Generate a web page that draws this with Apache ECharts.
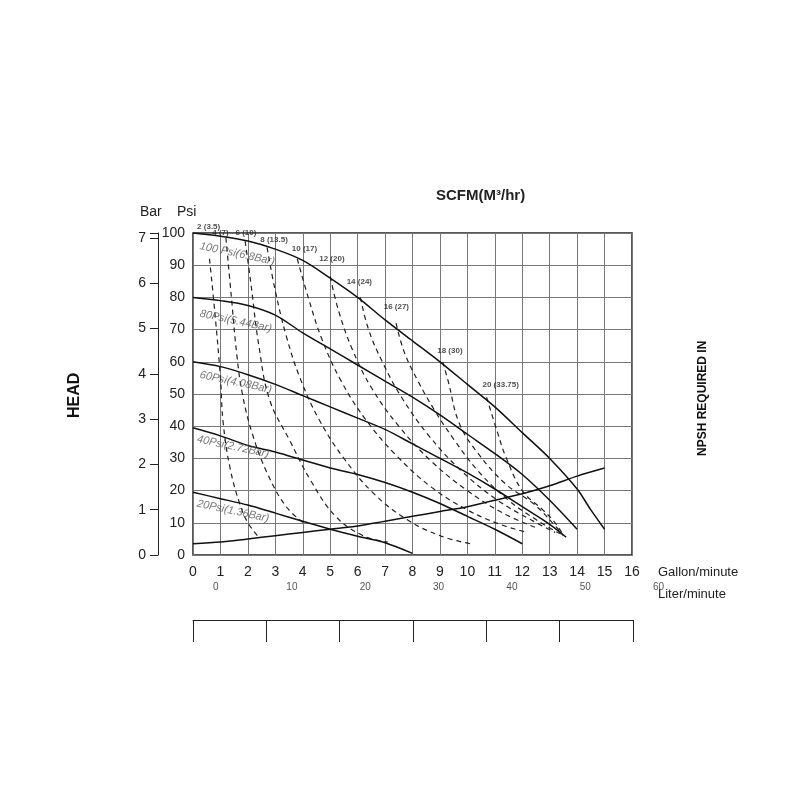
<!DOCTYPE html>
<html><head><meta charset="utf-8">
<script src="https://cdn.jsdelivr.net/npm/echarts@6/dist/echarts.min.js"></script>
<style>html,body{margin:0;background:#fff}#c{width:800px;height:800px}</style></head>
<body><div id="c"></div>
<script>
const gpmTicks = [0,1,2,3,4,5,6,7,8,9,10,11,12,13,14,15,16];
const psi100 = [[0,100],[1,99],[2,97.5],[3,95],[4,91.5],[5,86],[6,80],[7,73],[8,66.5],[9,60],[10,53],[11,46],[12,38],[13,30],[14,20.5],[14.5,14],[15,8]];
const psi80 = [[0,80],[1,79],[2,77.5],[3,74.5],[4,69],[5,64],[6,59],[7,54],[8,49],[9,43.5],[10,37.5],[11,31.5],[12,25],[13,17],[14,8]];
const psi60 = [[0,60],[1,58.5],[2,56],[3,53],[4,49.5],[5,46],[6,42.5],[7,39],[8,34.5],[9,30],[10,25.5],[11,20.5],[12,15],[13,9.5],[13.6,5.5]];
const psi40 = [[0,39.5],[1,37],[2,34],[3,32],[4,29.5],[5,27],[6,25],[7,22.5],[8,19.5],[9,16],[10,12],[11,8],[12,3.5]];
const psi20 = [[0,19.5],[1,17.5],[2,15.5],[3,13],[4,10.5],[5,8],[6,5.8],[7,3.8],[8,0.5]];
const npsh = [[0,3.5],[1,4],[2,5],[3,6],[4,7],[5,8],[6,9],[7,10.5],[8,12],[9,13.5],[10,15],[11,17],[12,19],[13,21.5],[14,24.5],[15,27]];
const scfm2 = [[0.6,92],[0.8,75],[1.0,55],[1.1,41],[1.35,27],[1.7,16],[2.0,10],[2.4,5.5]];
const scfm4 = [[1.2,98.5],[1.4,80],[1.6,62],[1.8,50],[2.15,38],[2.7,25.5],[3.4,15],[4.1,9.5]];
const scfm6 = [[1.9,97.5],[2.1,85],[2.4,65],[2.8,48],[3.5,36],[4.3,23],[5.2,12],[6.2,6],[7.1,4]];
const scfm8 = [[2.7,95.5],[3.0,82],[3.4,68],[3.9,55],[4.6,42],[5.5,30],[6.6,19],[7.8,11],[9.0,6],[10.1,3.5]];
const scfm10 = [[3.8,92],[4.2,80],[4.7,67],[5.4,54],[6.3,42],[7.4,31],[8.7,21],[10.0,14],[11.2,9.5],[12.2,7]];
const scfm12 = [[5.0,86.5],[5.3,76],[5.8,64],[6.5,52],[7.5,40],[8.7,29],[10.0,20],[11.3,13],[12.5,8.5]];
const scfm14 = [[6.1,80],[6.4,70],[6.9,60],[7.6,49],[8.6,37],[9.8,26],[11.1,17],[12.3,11],[13.2,7]];
const scfm16 = [[7.4,72],[7.7,63],[8.2,54],[8.8,45],[9.5,36],[10.4,26],[11.5,17],[12.5,11],[13.4,6.5]];
const scfm18 = [[9.1,60],[9.3,54],[9.7,41],[10.35,32],[11.4,22],[12.4,16],[13.1,10],[13.5,6]];
const scfm20 = [[10.7,49],[11.1,38],[11.4,30.5],[12.0,20],[12.75,14],[13.2,10],[13.5,6]];
const scfmLabels = [["2 (3.5)",0.15,102],["4 (7)",0.7,100],["6 (10)",1.55,100],["8 (13.5)",2.45,98],["10 (17)",3.6,95],["12 (20)",4.6,92],["14 (24)",5.6,85],["16 (27)",6.95,77],["18 (30)",8.9,63.5],["20 (33.75)",10.55,53]];
const psiLabels = [["100 Psi(6.8Bar)",0.25,96],["80Psi(5.44Bar)",0.25,75],["60Psi(4.08Bar)",0.25,56],["40Psi(2.72Bar)",0.15,36],["20Psi(1.36Bar)",0.15,16]];
const literTicks = [0,10,20,30,40,50,60];

const solid = d => ({type:'line',data:d,showSymbol:false,smooth:0.3,lineStyle:{color:'#111',width:1.5},z:5});
const dash = d => ({type:'line',data:d,showSymbol:false,smooth:0.4,lineStyle:{color:'#222',width:1.2,type:[5,4]},z:4});
const chart = echarts.init(document.getElementById('c'));
chart.setOption({
  backgroundColor:'#fff', animation:false,
  grid:[{left:193,top:233,width:439,height:322,show:true,borderColor:'#222',borderWidth:1.5},
        {left:193,top:598,width:440,height:22}],
  xAxis:[{gridIndex:0,type:'value',min:0,max:16,interval:1,
          axisLine:{show:false},axisTick:{show:false},
          axisLabel:{color:'#222',fontSize:14,margin:10,fontFamily:'Liberation Sans'},
          splitLine:{lineStyle:{color:'#777',width:1}}},
         {gridIndex:1,type:'value',min:0,max:60,interval:10,position:'top',
          axisLine:{show:true,lineStyle:{color:'#222'}},axisTick:{show:true,inside:true,length:22,lineStyle:{color:'#222'}},
          axisLabel:{inside:true,color:'#555',fontSize:10,margin:-16,align:'left',padding:[0,0,0,20]},
          splitLine:{show:false}}],
  yAxis:[{gridIndex:0,type:'value',min:0,max:100,interval:10,
          axisLine:{show:false},axisTick:{show:false},
          axisLabel:{color:'#222',fontSize:14,margin:8,fontFamily:'Liberation Sans'},
          splitLine:{lineStyle:{color:'#777',width:1}}},
         {gridIndex:0,type:'value',min:0,max:7.11,interval:1,position:'left',offset:35,
          axisLine:{show:true,lineStyle:{color:'#222'}},axisTick:{show:true,length:8,lineStyle:{color:'#222'}},
          axisLabel:{color:'#222',fontSize:14,margin:12,fontFamily:'Liberation Sans',formatter:v=>Number.isInteger(v)?v:''},
          splitLine:{show:false}},
         {gridIndex:1,type:'value',show:false}],
  series:[solid(psi100),solid(psi80),solid(psi60),solid(psi40),solid(psi20),solid(npsh),
    dash(scfm2),dash(scfm4),dash(scfm6),dash(scfm8),dash(scfm10),dash(scfm12),dash(scfm14),dash(scfm16),dash(scfm18),dash(scfm20),
    {type:'scatter',clip:false,symbolSize:0,data:scfmLabels.map(l=>({value:[l[1],l[2]],name:l[0]})),
     label:{show:true,position:'right',distance:0,formatter:p=>p.name,fontSize:8,fontWeight:'bold',color:'#222'},z:6},
    {type:'scatter',clip:false,symbolSize:0,data:psiLabels.map(l=>({value:[l[1],l[2]],name:l[0]})),
     label:{show:true,position:'right',distance:0,formatter:p=>p.name,fontSize:11,fontStyle:'italic',color:'#555',rotate:-12},z:6}
  ],
  graphic:[
    {type:'text',left:436,top:188,style:{text:'SCFM(M³/hr)',font:'bold 15px Liberation Sans',fill:'#222'}},
    {type:'text',left:140,top:205,style:{text:'Bar',font:'14px Liberation Sans',fill:'#222'}},
    {type:'text',left:177,top:205,style:{text:'Psi',font:'14px Liberation Sans',fill:'#222'}},
    {type:'text',x:67,y:418,rotation:Math.PI/2,style:{text:'HEAD',font:'bold 16px Liberation Sans',fill:'#111'}},
    {type:'text',x:697,y:456,rotation:Math.PI/2,style:{text:'NPSH REQUIRED IN',font:'bold 12px Liberation Sans',fill:'#111'}},
    {type:'text',left:658,top:566,style:{text:'Gallon/minute',font:'13px Liberation Sans',fill:'#222'}},
    {type:'text',left:658,top:588,style:{text:'Liter/minute',font:'13px Liberation Sans',fill:'#222'}}
  ]
});
</script></body></html>
